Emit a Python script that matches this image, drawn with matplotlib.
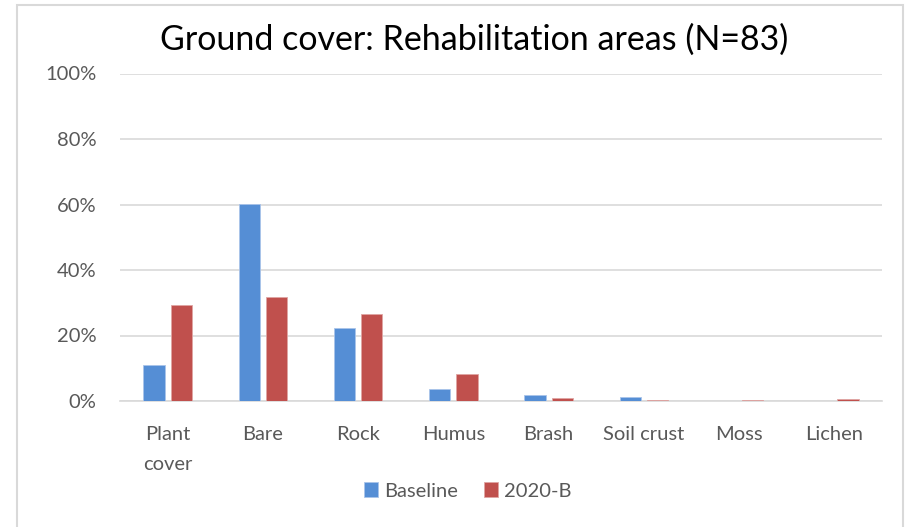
import numpy as np
import matplotlib.pyplot as plt
from matplotlib.patches import Rectangle
from matplotlib.ticker import PercentFormatter

# ground cover categories and the two survey rounds (percent)
categories = ['Plant\ncover', 'Bare', 'Rock', 'Humus', 'Brash', 'Soil crust', 'Moss', 'Lichen']
baseline = [11.0, 60.2, 22.4, 3.8, 1.8, 1.3, 0.0, 0.1]
round_2020b = [29.3, 31.7, 26.6, 8.3, 0.8, 0.3, 0.2, 0.5]
series_names = ['Baseline', '2020-B']

BLUE = '#558ED5'
RED = '#C0504D'
GREY_TXT = '#595959'
GRID = '#D9D9D9'

plt.rcParams['font.family'] = ['Lato', 'DejaVu Sans']

fig = plt.figure(figsize=(9.09, 5.27), dpi=100)
ax = fig.add_axes([120/909, 1 - 401/527, (882-120)/909, (401-73.5)/527])

# outer chart frame (cropped at the bottom)
fig.patches.append(Rectangle((17/909, -0.05), (903-17)/909, 1.05 - 5/527,
                             transform=fig.transFigure, fill=False,
                             edgecolor=GRID, lw=1.5))

x = np.arange(len(categories))
w = 0.225
off = 0.143
ax.bar(x - off, baseline, w, color=BLUE, edgecolor='#A9C4EA', lw=0.6, label=series_names[0], zorder=3)
ax.bar(x + off, round_2020b, w, color=RED, edgecolor='#E0A5A3', lw=0.6, label=series_names[1], zorder=3)

ax.set_xlim(-0.5, len(categories) - 0.5)
ax.set_ylim(0, 100)
ax.set_yticks(np.arange(0, 101, 20))
ax.yaxis.set_major_formatter(PercentFormatter(decimals=0))
ax.grid(axis='y', color=GRID, lw=1.2, zorder=0)
for s in ['top', 'right', 'left']:
    ax.spines[s].set_visible(False)
ax.spines['bottom'].set_color(GRID)
ax.spines['bottom'].set_linewidth(1.2)
ax.tick_params(axis='both', length=0, labelsize=14.5, colors=GREY_TXT)
ax.tick_params(axis='y', pad=17)
ax.tick_params(axis='x', pad=18)
ax.set_xticks(x)
ax.set_xticklabels(categories, linespacing=1.9, va='top')

fig.text(474/909, 1 - 40/527, 'Ground cover: Rehabilitation areas (N=83)',
         ha='center', va='center', fontsize=24.5, color='black')

leg = fig.legend(loc='center', bbox_to_anchor=(468/909, 1 - 491/527), ncol=2,
                 frameon=False, fontsize=14.5, handlelength=0.7, handleheight=0.7,
                 handletextpad=0.3, columnspacing=1.3)
for t in leg.get_texts():
    t.set_color(GREY_TXT)

fig.savefig('out.png', dpi=100)
